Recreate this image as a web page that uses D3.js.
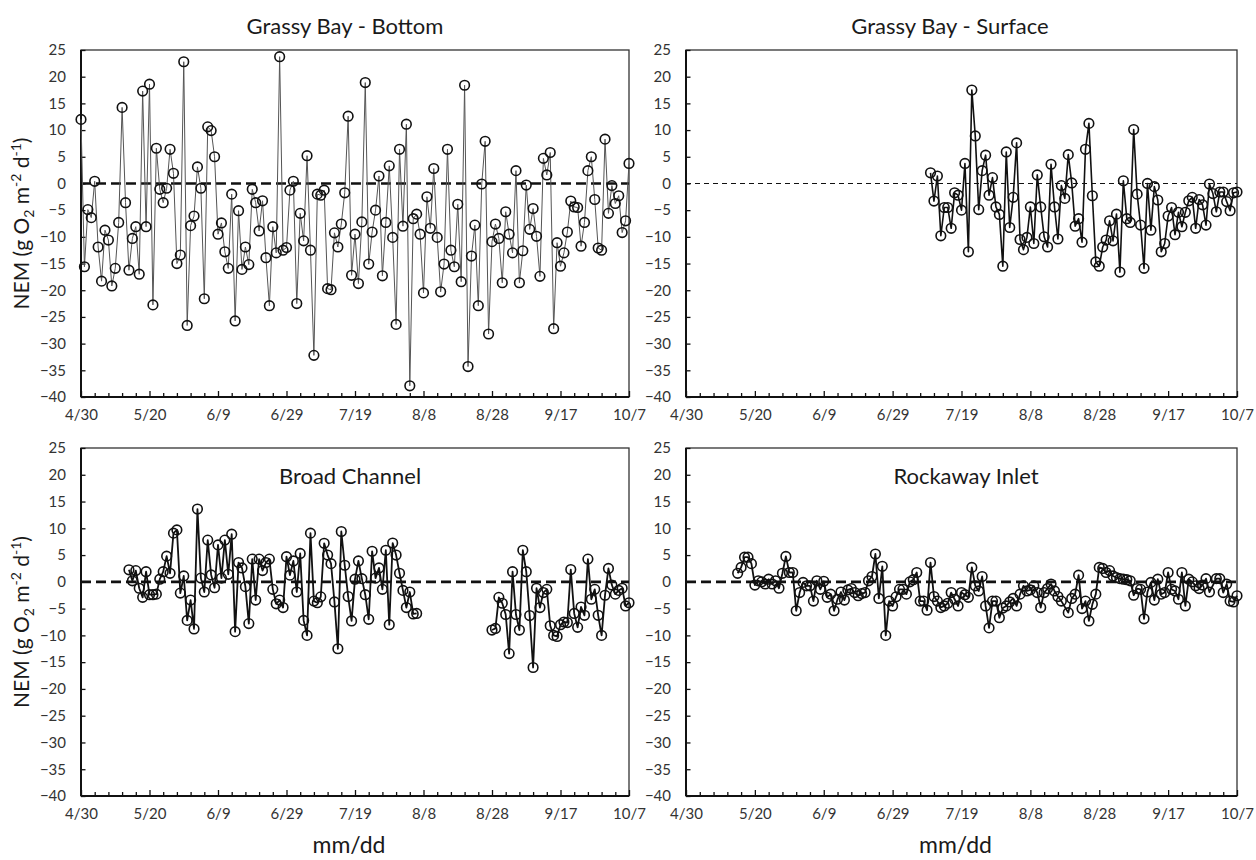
<!DOCTYPE html>
<html>
<head>
<meta charset="utf-8">
<script src="https://cdn.jsdelivr.net/npm/d3@7"></script>
<style>
  body { margin: 0; background: #fff; }
  svg { display: block; font-family: Lato, "Open Sans", sans-serif; }
</style>
</head>
<body>
<svg id="chart" width="1256" height="860"></svg>
<script>
// Daily net ecosystem metabolism, NEM (g O2 m-2 d-1).
// Each series is one value per day, counted from its start date.
const YEAR = 2015;

const grassyBottomStart = "4/30";
const grassyBottom = [
  12.0, -15.6, -4.9, -6.4, 0.4, -11.9, -18.3, -8.75, -10.6, -19.2,
  -15.9, -7.3, 14.25, -3.6, -16.25, -10.3, -8.1, -17, 17.3, -8.1,
  18.6, -22.75, 6.6, -1.1, -3.6, -0.9, 6.4, 1.9, -15.0, -13.4,
  22.8, -26.6, -7.9, -6.1, 3.1, -0.9, -21.6, 10.6, 9.9, 5.0,
  -9.5, -7.4, -12.8, -15.9, -2.0, -25.75, -5.1, -16.1, -11.9, -15.2,
  -1.1, -3.6, -8.9, -3.25, -13.9, -22.9, -8.1, -13, 23.75, -12.5,
  -12, -1.25, 0.4, -22.5, -5.6, -10.75, 5.2, -12.5, -32.2, -2.0,
  -2.2, -1.25, -19.7, -19.9, -9.25, -11.9, -7.6, -1.75, 12.6, -17.2,
  -9.5, -18.75, -7.2, 18.9, -15.1, -9.1, -5, 1.4, -17.3, -7.3,
  3.3, -10.1, -26.4, 6.4, -8, 11.1, -37.9, -6.6, -5.75, -9.5,
  -20.5, -2.5, -8.4, 2.8, -10.1, -20.3, -15.1, 6.4, -12.5, -15.6,
  -3.9, -18.4, 18.4, -34.3, -13.6, -7.8, -22.9, -0.1, 7.9, -28.2,
  -10.9, -7.6, -10.3, -18.6, -5.3, -9.5, -13, 2.4, -18.6, -12.6,
  -0.3, -8.6, -4.7, -9.9, -17.4, 4.7, 1.6, 5.8, -27.2, -11.1,
  -15.5, -13, -9.1, -3.3, -4.4, -4.5, -11.75, -7.3, 2.4, 5,
  -3, -12.1, -12.5, 8.3, -5.6, -0.4, -3.75, -2.3, -9.2, -7,
  3.75
];

const grassySurfaceStart = "7/10";
const grassySurface = [
  2.0, -3.3, 1.4, -9.8, -4.5, -4.5, -8.4, -1.75, -2.2, -5,
  3.75, -12.8, 17.5, 8.9, -4.9, 2.4, 5.3, -2.2, 1.1, -4.4,
  -5.8, -15.5, 5.9, -8.25, -2.6, 7.6, -10.5, -12.4, -10.1, -4.4,
  -11.25, 1.6, -4.4, -10, -11.9, 3.6, -4.4, -10.4, -0.4, -2.8,
  5.4, 0.1, -8, -6.6, -11, 6.4, 11.25, -2.3, -14.7, -15.5,
  -11.9, -10.6, -7, -10.75, -5.75, -16.6, 0.5, -6.6, -7.3, 10.1,
  -2, -7.8, -15.9, 0, -8.75, -0.6, -3.1, -12.8, -11.25, -6.1,
  -4.5, -9.6, -5.4, -8.1, -5.4, -3.25, -2.6, -8.4, -3, -4,
  -7.8, -0.1, -1.9, -5.3, -1.6, -1.6, -3.4, -5.1, -1.75, -1.6
];

// Broad Channel was logged in two stretches, with no record in between.
const broadEarlyStart = "5/14";
const broadEarly = [
  2.25, 0.2, 2.1, -1.2, -2.9, 1.9, -2.4, -2.4, -2.3, 0.5,
  1.9, 4.8, 1.6, 9.1, 9.7, -2.1, 1.1, -7.2, -3.4, -8.8,
  13.6, 0.7, -1.9, 7.8, 1.3, -1.1, 6.9, 0.7, 7.8, 1.4,
  8.9, -9.3, 3.6, 2.6, -0.9, -7.8, 4.25, -3.4, 4.25, 2.1,
  3.6, 4.25, -1.4, -4.1, -3.4, -4.8, 4.7, 1.25, 3.9, -1.9,
  5.3, -7.2, -10, 9.1, -3.6, -3.9, -2.8, 7.2, 5, 3.4,
  -3.75, -12.5, 9.4, 3.1, -2.75, -7.3, 0.5, 3.9, 0.6, -2.4,
  -7, 5.7, 0.7, 2.6, -1.4, 5.9, -8, 7.25, 5, 1.6,
  -1.6, -4.8, -1.9, -6, -5.9
];
const broadLateStart = "8/28";
const broadLate = [
  -9, -8.7, -2.9, -4, -6.1, -13.4, 1.9, -6.1, -9, 5.9,
  1.9, -6.3, -16, -1.2, -4.8, -2, -1.4, -8.2, -10, -10.2,
  -8, -7.5, -7.6, 2.3, -5.9, -8.5, -4.7, -6.25, 4.25, -3.25,
  -1.4, -6.25, -10, -2.5, 2.5, -0.6, -2.3, -1.6, -1.2, -4.5,
  -3.9
];

// null = no reading that day; the line runs straight past it.
const rockawayStart = "5/15";
const rockaway = [
  1.6, 2.7, 4.6, 4.6, 3.4, -0.6, 0.2, 0, -0.4, 0.5,
  -0.4, 0.2, -1.2, 1.6, 4.75, 1.75, 1.75, -5.4, -2, -0.1,
  -0.75, -0.75, -3.6, 0.2, -1.4, 0.1, -2.9, -2.3, -5.4, -3.25,
  -1.9, -3.4, -1.5, -1.25, -2, -2.6, -2.2, -2, 0.2, 1,
  5.2, -3.1, 2.9, -10, -3.6, -4.5, -2.8, -1.4, -1.4, -2.3,
  0, 0.4, 1.75, -3.6, -3.6, -5.3, 3.6, -2.75, -3.6, -4.8,
  -4.5, -4, -2, -3.25, -4.5, -2, -2.4, -2.9, 2.7, -0.75,
  -1.7, 1, -4.5, -8.6, -3.6, -3.6, -6.7, -4.9, -4.5, -3.75,
  -3.1, -4.5, -2.3, -0.75, -1.7, -1.5, -0.75, -2, -4.8, -2,
  -1.25, -0.4, -1.7, -2.75, -3.6, null, -5.75, -3.1, -2.3, 1.25,
  -5, -3.6, -7.3, -4.2, -2.3, 2.7, 2.5, 1.75, 2.1, 1.1,
  0.8, 0.6, 0.5, 0.4, 0.2, -2.5, -1.25, -1.4, -6.9, -1.9,
  -0.1, -3.4, 0.5, -2.3, -2, 1.75, -1.4, -1.7, -3.25, 1.75,
  -4.5, 0.5, 0, -0.75, -1.25, -0.6, 0.6, -1.9, null, 0.6,
  0.6, -2, -0.4, -3.6, -3.75, -2.6
];

const dateTicks = ["4/30", "5/20", "6/9", "6/29", "7/19", "8/8", "8/28", "9/17", "10/7"];
const nemTicks = [25, 20, 15, 10, 5, 0, -5, -10, -15, -20, -25, -30, -35, -40];

const parseMD = s => {
  const [m, d] = s.split("/").map(Number);
  return new Date(Date.UTC(YEAR, m - 1, d));
};
const toPoints = (start, values) => {
  const t0 = parseMD(start);
  return values
    .map((v, i) => ({ date: d3.utcDay.offset(t0, i), v }))
    .filter(p => p.v !== null);
};

const panels = [
  { title: "Grassy Bay - Bottom", left: 81, right: 629, top: 50, bottom: 397,
    titleX: 345, titleY: 34, yTitle: true, xTitle: false,
    lineColor: "#555", lineWidth: 1, zeroWidth: 2.6, zeroDash: "10,5",
    runs: [toPoints(grassyBottomStart, grassyBottom)] },
  { title: "Grassy Bay - Surface", left: 686, right: 1237, top: 50, bottom: 397,
    titleX: 950, titleY: 34, yTitle: false, xTitle: false,
    lineColor: "#111", lineWidth: 1.6, zeroWidth: 1.1, zeroDash: "5,4",
    runs: [toPoints(grassySurfaceStart, grassySurface)] },
  { title: "Broad Channel", left: 81, right: 629, top: 448, bottom: 796,
    titleX: 350, titleY: 484, yTitle: true, xTitle: true,
    lineColor: "#111", lineWidth: 1.8, zeroWidth: 2.6, zeroDash: "10,5",
    runs: [toPoints(broadEarlyStart, broadEarly), toPoints(broadLateStart, broadLate)] },
  { title: "Rockaway Inlet", left: 686, right: 1237, top: 448, bottom: 796,
    titleX: 966, titleY: 484, yTitle: false, xTitle: true,
    lineColor: "#111", lineWidth: 1.8, zeroWidth: 2.6, zeroDash: "10,5",
    runs: [toPoints(rockawayStart, rockaway)] }
];

const svg = d3.select("#chart");
svg.append("rect").attr("width", 1256).attr("height", 860).attr("fill", "#fff");

const tickDates = dateTicks.map(parseMD);
const minorDates = d3.utcDay.range(tickDates[0], d3.utcDay.offset(tickDates[tickDates.length - 1], 1), 4);
const majorKeys = new Set(tickDates.map(d => +d));
const fmt = d3.utcFormat("%-m/%-d");

panels.forEach(p => {
  const x = d3.scaleUtc()
    .domain([tickDates[0], tickDates[tickDates.length - 1]])
    .range([p.left, p.right]);
  const y = d3.scaleLinear()
    .domain([d3.min(nemTicks), d3.max(nemTicks)])
    .range([p.bottom, p.top]);

  const g = svg.append("g");

  // plot frame
  g.append("rect")
    .attr("x", p.left).attr("y", p.top)
    .attr("width", p.right - p.left).attr("height", p.bottom - p.top)
    .attr("fill", "none").attr("stroke", "#333").attr("stroke-width", 1.3);

  // y axis: inward ticks every 5
  const yAxis = d3.axisLeft(y).tickValues(nemTicks).tickSize(-4.5).tickPadding(15);
  const ya = g.append("g").attr("transform", `translate(${p.left},0)`).call(yAxis);
  ya.select(".domain").remove();
  ya.selectAll(".tick line").attr("stroke", "#111").attr("stroke-width", 1.3);
  ya.selectAll(".tick text")
    .attr("font-size", 15).attr("fill", "#333")
    .attr("font-family", "Lato, 'Open Sans', sans-serif");

  // x axis: inward ticks every 4 days, labels every 20 days
  const xAxis = d3.axisBottom(x).tickValues(minorDates).tickSize(-4).tickPadding(12)
    .tickFormat(d => majorKeys.has(+d) ? fmt(d) : "");
  const xa = g.append("g").attr("transform", `translate(0,${p.bottom})`).call(xAxis);
  xa.select(".domain").remove();
  xa.selectAll(".tick line")
    .attr("stroke", "#111").attr("stroke-width", 1.3)
    .attr("y2", d => majorKeys.has(+d) ? -6 : -4);
  xa.selectAll(".tick text")
    .attr("font-size", 15).attr("fill", "#333")
    .attr("font-family", "Lato, 'Open Sans', sans-serif");

  // heavier left and bottom axis lines
  g.append("line").attr("x1", p.left).attr("x2", p.left).attr("y1", p.top).attr("y2", p.bottom)
    .attr("stroke", "#111").attr("stroke-width", 2);
  g.append("line").attr("x1", p.left).attr("x2", p.right).attr("y1", p.bottom).attr("y2", p.bottom)
    .attr("stroke", "#111").attr("stroke-width", 2);

  // zero reference
  g.append("line")
    .attr("x1", p.left).attr("x2", p.right)
    .attr("y1", y(0)).attr("y2", y(0))
    .attr("stroke", "#111").attr("stroke-width", p.zeroWidth)
    .attr("stroke-dasharray", p.zeroDash);

  const line = d3.line().x(d => x(d.date)).y(d => y(d.v));
  p.runs.forEach(run => {
    g.append("path").datum(run)
      .attr("d", line).attr("fill", "none")
      .attr("stroke", p.lineColor).attr("stroke-width", p.lineWidth)
      .attr("stroke-linejoin", "round");
    g.append("g").selectAll("circle").data(run).join("circle")
      .attr("cx", d => x(d.date)).attr("cy", d => y(d.v)).attr("r", 4.8)
      .attr("fill", "none").attr("stroke", "#111").attr("stroke-width", 1.6);
  });

  // panel title
  g.append("text").attr("x", p.titleX).attr("y", p.titleY)
    .attr("text-anchor", "middle").attr("font-size", 22).attr("fill", "#1a1a1a")
    .text(p.title);

  if (p.yTitle) {
    const cy = (p.top + p.bottom) / 2;
    const t = g.append("text")
      .attr("transform", `translate(29,${cy}) rotate(-90)`)
      .attr("text-anchor", "middle").attr("font-size", 21).attr("fill", "#1a1a1a");
    t.append("tspan").text("NEM (g O");
    t.append("tspan").attr("font-size", 14).attr("dy", 5).text("2");
    t.append("tspan").attr("dy", -5).text(" m");
    t.append("tspan").attr("font-size", 14).attr("dy", -8).text("-2");
    t.append("tspan").attr("dy", 8).text(" d");
    t.append("tspan").attr("font-size", 14).attr("dy", -8).text("-1");
    t.append("tspan").attr("dy", 8).text(")");
  }

  if (p.xTitle) {
    g.append("text").attr("x", (p.left + p.right) / 2 - 6).attr("y", 853)
      .attr("text-anchor", "middle").attr("font-size", 23).attr("fill", "#1a1a1a")
      .text("mm/dd");
  }
});
</script>
</body>
</html>
